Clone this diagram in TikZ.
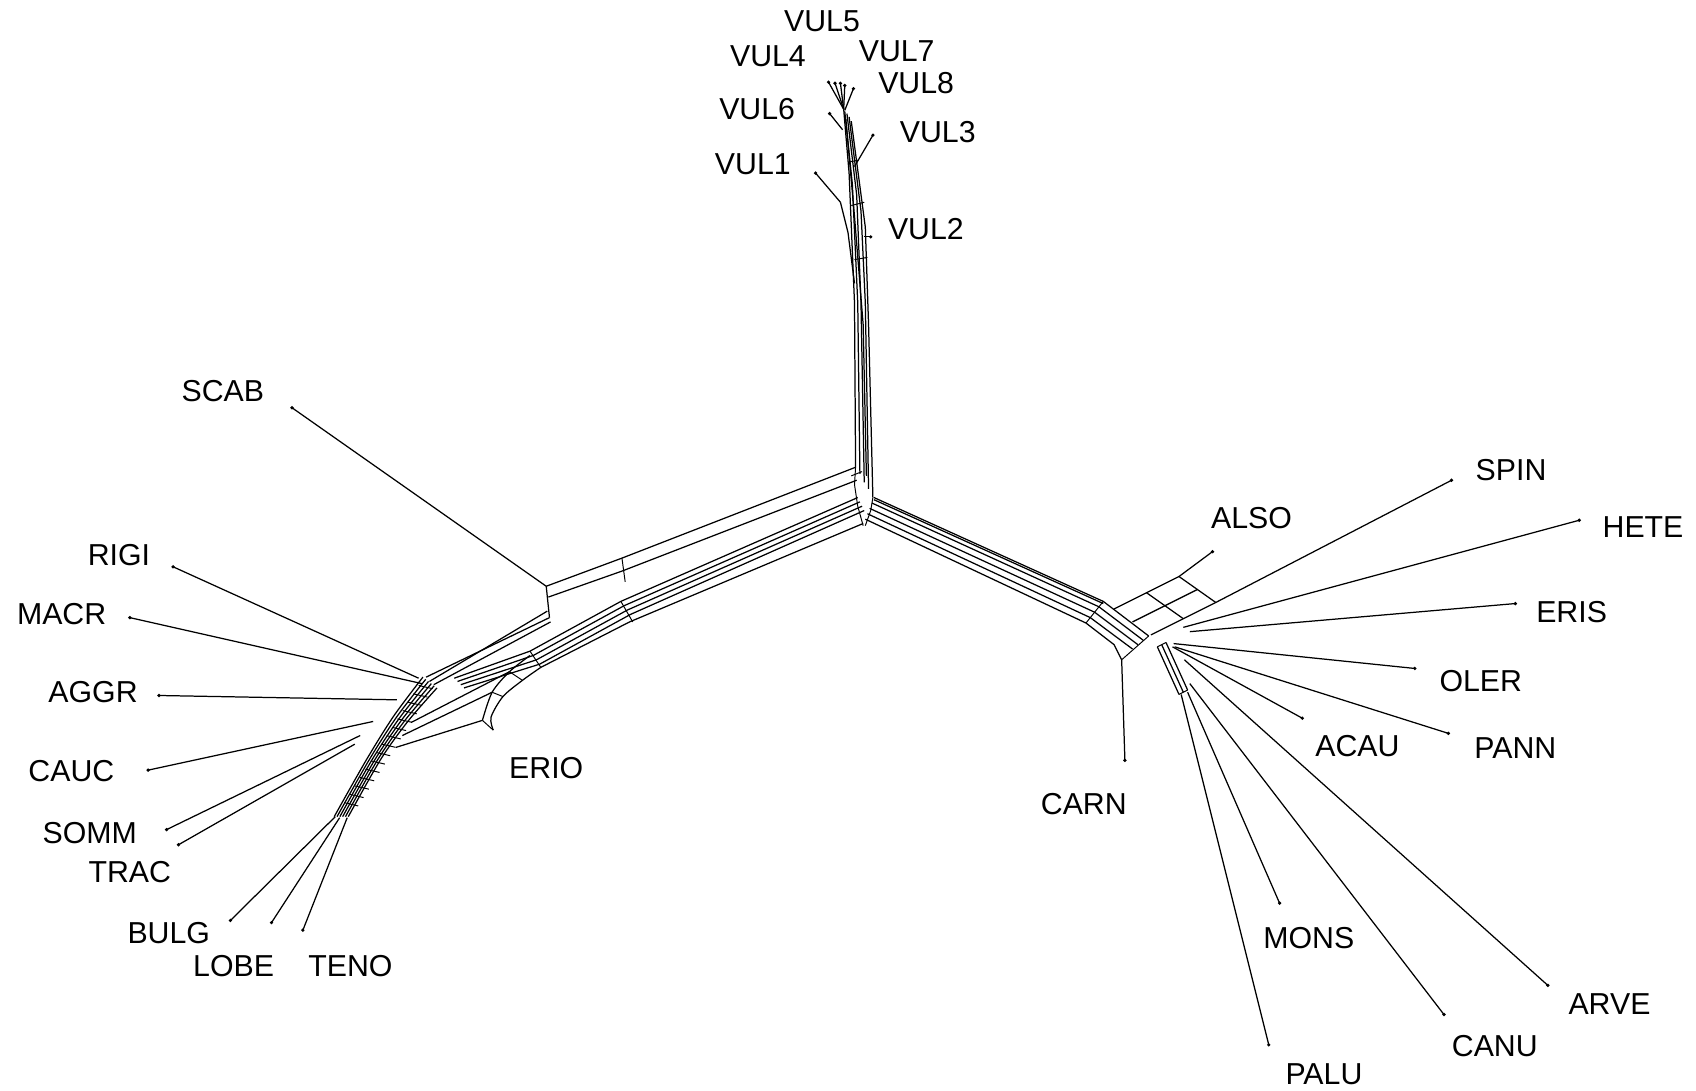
\documentclass[tikz,border=0pt]{standalone}
\usepackage{fontspec}
\setmainfont{Liberation Sans}
\usetikzlibrary{calc}

\begin{document}
\begin{tikzpicture}[x=1pt, y=-1pt,
    edge/.style={line width=1.15pt, line join=round},
    split/.style={line width=0.9pt},
    lab/.style={font=\fontsize{28}{32}\selectfont, inner sep=0pt},
    dot/.style={radius=1.7}]
\useasboundingbox (0,0) rectangle (1568,1008);

% --- stem up to the VUL group
\draw[edge] (780,101) -- (785,160) -- (790,280) -- (791,432);
\draw[edge] (781,103) -- (788,170) -- (793,280) -- (795,438);
\draw[edge] (783,105) -- (792,180) -- (796,280) -- (799,446);
\draw[edge] (785,108) -- (796,195) -- (800,280) -- (803,452);
\draw[edge] (787,112) -- (800,210) -- (803,300) -- (807,460);
\draw[edge] (782,110) -- (790,200) -- (798,300) -- (801,440);
\draw[split] (784,150) -- (794,148);
\draw[split] (787,190) -- (799,187);
\draw[split] (790,240) -- (802,238);
\draw[edge] (777,187) -- (784,215) -- (790,262);

% --- central junction
\draw[split] (791,432) -- (790,448) -- (793,468) -- (798,486);
\draw[split] (807,460) -- (805,472) -- (800,486);
\draw[split] (787,440) -- (797,436);

% --- left band
\draw[edge] (791,432) -- (575,516) -- (505,542);
\draw[edge] (792,444) -- (575,528) -- (507,552);
\foreach \k in {0,...,3}
  \draw[edge] (793+2*\k,460+4*\k) -- (574+3*\k,556+4*\k) -- (490+3*\k,602+4*\k) -- (420+3*\k,627+3*\k);
\draw[edge] (798,484) -- (582,575) -- (500,617);
\draw[split] (575,516) -- (578,538);
\draw[split] (574,556) -- (585,575);
\draw[split] (490,602) -- (500,617);
% SCAB junction
\draw[edge] (505,542) -- (508,571);
\draw[edge] (508,571) -- (394,626);
\draw[edge] (506,565) -- (397,630);
\draw[edge] (509,575) -- (401,633);

% --- ERIO arc
\draw[edge] plot[smooth] coordinates {(500,617) (483,629) (465,644) (454,663) (456,675)};
\draw[edge] plot[smooth] coordinates {(490,606) (471,621) (455,640) (446,666)};
\draw[split] (471,621) -- (483,629);
\draw[split] (455,640) -- (465,644);
\draw[split] (446,666) -- (456,675);
\draw[edge] (446,666) -- (366,691);
\draw[edge] (455,640) -- (372,680);
\draw[edge] (471,621) -- (380,668);

% --- left cluster
\foreach \k in {0,...,5}
  \draw[edge] plot[smooth] coordinates {(391+2.6*\k,626+2*\k) (364+2.6*\k,662+\k) (339+2.6*\k,702) (309+2.6*\k,755)};
\foreach \s in {0.06,0.12,...,0.94}
  \draw[split] (392-82*\s,626+129*\s) -- ++(13,3);

% --- right band
\foreach \k in {0,...,3}
  \draw[edge] (808-2*\k,460+5*\k) -- (1020-4*\k,556+5*\k) -- (1062-5*\k,588+4*\k);
\draw[edge] (808,462) -- (1020,558);
\draw[edge] (800,480) -- (1004,576) -- (1030,596) -- (1037,610);
\draw[split] (1062,588) -- (1037,610);
\draw[split] (1020,556) -- (1004,576);

% ALSO boxes
\draw[edge] (1030,563) -- (1060,548) -- (1090,533);
\draw[edge] (1047,575) -- (1077,560) -- (1107,545);
\draw[edge] (1064,587) -- (1094,572) -- (1124,557);
\draw[edge] (1060,548) -- (1077,560) -- (1094,572);
\draw[edge] (1090,533) -- (1107,545) -- (1124,557);

% lower right strand
\foreach \k in {0,1,2}
  \draw[edge] (1070+4*\k,598-2*\k) -- (1090+4*\k,642-2*\k);
\draw[split] (1070,598) -- (1078,594);
\draw[split] (1090,642) -- (1098,638);

% --- leaves
\foreach \n/\tx/\ty/\bx/\by in {
    vulA/766/76/780/101, vulB/772/77/780/101, vulC/777/77/780/101,
    vulD/781/79/780/101, vulE/789/82/781/102, vulF/767/105/779/120,
    vulG/807/125/790/154, vulH/754/160/777/187, vulI/805/219/799/219,
    scab/270/377/505/542, rigi/160/524/387/627, macr/120/571/390/632,
    aggr/147/643/367/647, cauc/137/712/345/667, somm/154/767/333/680,
    trac/165/781/328/688, bulg/213/851/310/755, lobe/251/853/314/756,
    teno/280/860/321/756,
    carn/1040/703/1037/610, also/1121/510/1090/533, spin/1342/444/1124/557,
    hete/1460/481/1094/580, eris/1401/558/1100/584, oler/1308/618/1085/595,
    acau/1204/664/1084/598, pann/1339/678/1086/598,
    mons/1183/835/1098/640, palu/1173/966/1092/642,
    canu/1335/938/1100/632, arve/1431/911/1095/610}{
  \coordinate (\n) at (\tx,\ty);
  \coordinate (\n-in) at (\bx,\by);
  \draw[edge] (\n-in) -- (\n);
  \fill (\n) circle[dot];
}

% --- labels
\foreach \n/\t/\x/\y in {
    l5/VUL5/760/20, l4/VUL4/710/52, l7/VUL7/829/47, l8/VUL8/847/77,
    l6/VUL6/700/101, l3/VUL3/867/122, l1/VUL1/696/152, l2/VUL2/856/212,
    lscab/SCAB/206/362, lrigi/RIGI/110/513, lmacr/MACR/57/568,
    laggr/AGGR/86/640, lcauc/CAUC/66/713, lsomm/SOMM/83/770,
    ltrac/TRAC/120/806, lbulg/BULG/156/863, llobe/LOBE/216/893,
    lteno/TENO/324/893, lerio/ERIO/505/710, lcarn/CARN/1002/743,
    lalso/ALSO/1157/479, lspin/SPIN/1397/435, lhete/HETE/1519/487,
    leris/ERIS/1453/566, loler/OLER/1369/630, lacau/ACAU/1255/690,
    lpann/PANN/1401/692, lmons/MONS/1210/867, larve/ARVE/1488/928,
    lcanu/CANU/1382/967, lpalu/PALU/1224/993}
  \node[lab] (\n) at (\x,\y) {\t};
\end{tikzpicture}
\end{document}
